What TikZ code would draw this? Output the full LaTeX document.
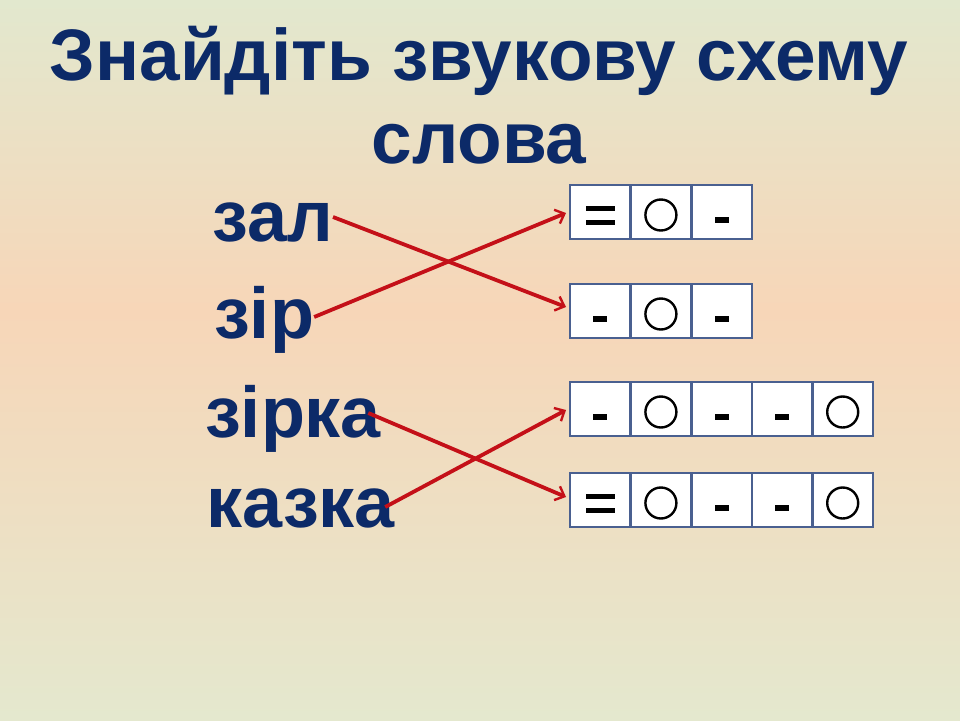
\documentclass[tikz,border=0pt]{standalone}
\usepackage{fontspec}
\setmainfont{Liberation Sans}
\usetikzlibrary{arrows.meta,calc}
\definecolor{navy}{RGB}{12,42,104}
\definecolor{arrowred}{RGB}{196,16,24}
\definecolor{boxline}{RGB}{74,96,144}
\definecolor{bgtop}{RGB}{226,232,206}
\definecolor{bgmid}{RGB}{247,214,184}
\definecolor{bgbot}{RGB}{228,232,206}
\begin{document}
\begin{tikzpicture}[x=1pt,y=-1pt,
  titletxt/.style={text=navy,font=\fontsize{73}{80}\selectfont\bfseries,inner sep=0,anchor=base},
  wordtxt/.style={text=navy,font=\fontsize{72}{80}\selectfont\bfseries,inner sep=0,anchor=base west},
  cell/.style={draw=boxline,line width=2.6pt,fill=white,minimum width=60.6pt,minimum height=54pt,inner sep=0,outer sep=0},
  link/.style={draw=arrowred,line width=3.8pt,-{Straight Barb[length=8pt,width=15pt,line width=2.4pt]}},
  symbar/.style={fill=black},
  circsym/.style={draw=black,line width=2.4pt}
]
\useasboundingbox (0,0) rectangle (960,720);
\shade[top color=bgtop,bottom color=bgmid] (0,0) rectangle (960,310);
\shade[top color=bgmid,bottom color=bgbot] (0,309) rectangle (960,720);

% title
\node[titletxt] (t1) at (479,80) {Знайдіть звукову схему};
\node[titletxt] (t2) at (479,163) {слова};

% words
\node[wordtxt] (zal) at (212,241) {зал};
\node[wordtxt] (zir) at (214,338) {зір};
\node[wordtxt] (zirka) at (205,437) {зірка};
\node[wordtxt] (kazka) at (206,527) {казка};

% schemes
\foreach \r/\y/\n in {1/212/3,2/311/3,3/409/5,4/500/5}{
  \foreach \c in {1,...,\n}{
    \node[cell] (c\r\c) at ({570+30.3+(\c-1)*60.6},\y) {};
  }
}

% symbols
\newcommand{\eqsym}[1]{%
  \fill[symbar] ($(#1)+(-14.5,-6.5)$) rectangle ($(#1)+(14.5,-1.5)$);
  \fill[symbar] ($(#1)+(-14.5,8)$) rectangle ($(#1)+(14.5,13)$);}
\newcommand{\dashsym}[1]{%
  \fill[symbar] ($(#1)+(-7,5)$) rectangle ($(#1)+(7,11)$);}
\newcommand{\circsym}[1]{%
  \draw[circsym] ($(#1)+(0,3)$) circle (15.5);}

\eqsym{c11}\circsym{c12}\dashsym{c13}
\dashsym{c21}\circsym{c22}\dashsym{c23}
\dashsym{c31}\circsym{c32}\dashsym{c33}\dashsym{c34}\circsym{c35}
\eqsym{c41}\circsym{c42}\dashsym{c43}\dashsym{c44}\circsym{c45}

% connectors
\draw[link] ($(zal.base east)+(0,-24)$) -- ($(c21.west)+(-4,-4)$);
\draw[link] ($(zir.base east)+(0,-21)$) -- ($(c11.west)+(-4,1)$);
\draw[link] ($(zirka.base east)+(-13,-24)$) -- ($(c41.west)+(-4,-3)$);
\draw[link] ($(kazka.base east)+(-10,-20)$) -- ($(c31.west)+(-4,1)$);
\end{tikzpicture}
\end{document}
